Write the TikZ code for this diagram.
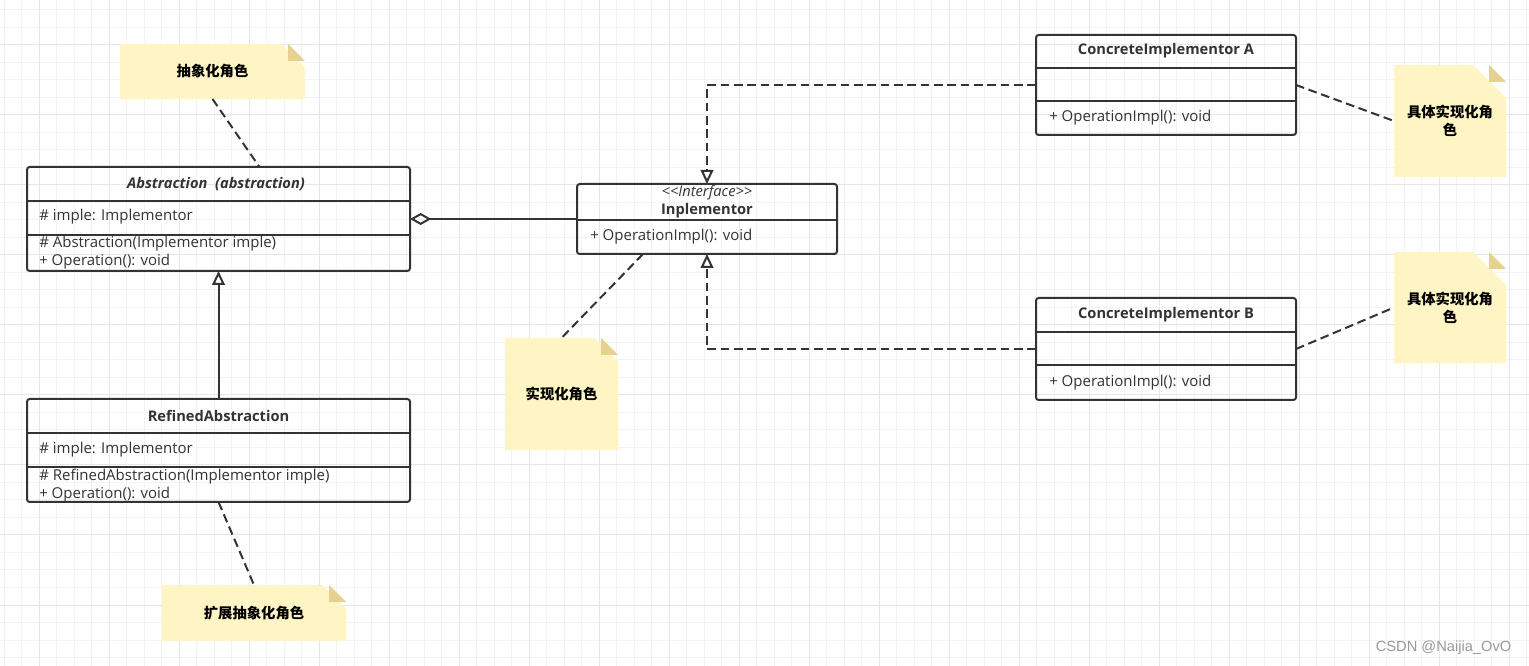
\documentclass[tikz,border=0pt]{standalone}
\usepackage{fontspec}
\usepackage{tikz}
\usetikzlibrary{arrows.meta, shapes.misc, calc}
\setmainfont{Open Sans}
\newfontfamily\cjk{Noto Sans CJK SC}
\newfontfamily\markfont{Liberation Sans}
\definecolor{umlline}{HTML}{333333}
\definecolor{notebg}{HTML}{FFF4C3}
\definecolor{notefold}{HTML}{E6D18E}
\definecolor{gridminor}{HTML}{F3F3F3}
\definecolor{gridmajor}{HTML}{E6E6E6}
\newlength{\unitpx}
\setlength{\unitpx}{0.75pt}

\begin{document}
\begin{tikzpicture}[x=0.75pt, y=-0.75pt,
  classbox/.style={rectangle, draw=umlline, line width=1.5pt, rounded corners=2pt, anchor=north west, inner sep=0pt, outer sep=0pt},
  partline/.style={draw=umlline, line width=1.5pt},
  classtitle/.style={font=\fontsize{11}{12}\selectfont\bfseries, text=umlline},
  member/.style={anchor=west, align=left, inner sep=0pt, font=\fontsize{11.25}{13.5}\selectfont, text=umlline},
  note/.style={chamfered rectangle, chamfered rectangle corners=north east, chamfered rectangle sep=12.75pt, fill=notebg, anchor=north west, inner xsep=-6pt, inner ysep=0pt, outer sep=0pt, align=center, font=\cjk\fontsize{10.75}{13.5}\selectfont\bfseries},
  umlrel/.style={draw=umlline, line width=1.5pt},
  umldash/.style={draw=umlline, line width=1.5pt, dash pattern=on 6.5pt off 3.5pt},
  opentri/.style={-{Triangle[open, length=10.5pt, width=9.5pt]}}]
\useasboundingbox (0,0) rectangle (1529,666);
\fill[white] (0,0) rectangle (1529,666);

% 背景の方眼
\foreach \gx in {4,21.5,...,1529} \draw[gridminor, line width=0.75pt] (\gx,0) -- (\gx,666);
\foreach \gy in {10,27.5,...,666} \draw[gridminor, line width=0.75pt] (0,\gy) -- (1529,\gy);
\foreach \gx in {39,109,...,1529} \draw[gridmajor, line width=0.75pt] (\gx,0) -- (\gx,666);
\foreach \gy in {45,115,...,666} \draw[gridmajor, line width=0.75pt] (0,\gy) -- (1529,\gy);

% Abstraction
\node[classbox, minimum width=383\unitpx, minimum height=104\unitpx] (abs) at (27,167) {};
\draw[partline] ($(abs.north west)+(0,34)$) -- ($(abs.north east)+(0,34)$);
\draw[partline] ($(abs.north west)+(0,68)$) -- ($(abs.north east)+(0,68)$);
\node[classtitle, font=\fontsize{11}{12}\selectfont\bfseries\itshape] (abstitle) at (216,184) {Abstraction\ \ (abstraction)};
\node[member] (absattr) at (39,217) {\# imple: Implementor};
\node[member] (absops) at (39,253) {\# Abstraction(Implementor imple)\\+ Operation(): void};

% RefinedAbstraction
\node[classbox, minimum width=383\unitpx, minimum height=103\unitpx] (refined) at (27,399) {};
\draw[partline] ($(refined.north west)+(0,34)$) -- ($(refined.north east)+(0,34)$);
\draw[partline] ($(refined.north west)+(0,68)$) -- ($(refined.north east)+(0,68)$);
\node[classtitle] (refinedtitle) at (218.5,416) {RefinedAbstraction};
\node[member] (refinedattr) at (39,450) {\# imple: Implementor};
\node[member] (refinedops) at (39,486) {\# RefinedAbstraction(Implementor imple)\\+ Operation(): void};

% Interface
\node[classbox, minimum width=260\unitpx, minimum height=70\unitpx] (iface) at (577,184) {};
\draw[partline] ($(iface.north west)+(0,36)$) -- ($(iface.north east)+(0,36)$);
\node[member, anchor=center, font=\fontsize{11}{12}\selectfont\itshape] (ifacestereo) at (707,193) {<{}<Interface>{}>};
\node[classtitle] (ifacetitle) at (707,211) {Inplementor};
\node[member] (ifaceop) at (590,237) {+ OperationImpl(): void};

% ConcreteImplementor A / B
\node[classbox, minimum width=260\unitpx, minimum height=100\unitpx] (concA) at (1036,35) {};
\draw[partline] ($(concA.north west)+(0,33)$) -- ($(concA.north east)+(0,33)$);
\draw[partline] ($(concA.north west)+(0,66)$) -- ($(concA.north east)+(0,66)$);
\node[classtitle] (concAtitle) at (1166,51) {ConcreteImplementor A};
\node[member] (concAop) at (1049,118) {+ OperationImpl(): void};

\node[classbox, minimum width=260\unitpx, minimum height=102\unitpx] (concB) at (1036,298) {};
\draw[partline] ($(concB.north west)+(0,34)$) -- ($(concB.north east)+(0,34)$);
\draw[partline] ($(concB.north west)+(0,67)$) -- ($(concB.north east)+(0,67)$);
\node[classtitle] (concBtitle) at (1166,315) {ConcreteImplementor B};
\node[member] (concBop) at (1049,383) {+ OperationImpl(): void};

% 注釈
\node[note, minimum width=185\unitpx, minimum height=55\unitpx] (absnote) at (120,44) {抽象化角色};
\node[note, minimum width=113\unitpx, minimum height=112\unitpx] (ifacenote) at (505,338) {实现化角色};
\node[note, minimum width=112\unitpx, minimum height=112\unitpx] (concAnote) at (1394,65) {具体实现化角\\色};
\node[note, minimum width=112\unitpx, minimum height=111\unitpx] (concBnote) at (1394,252) {具体实现化角\\色};
\node[note, minimum width=184\unitpx, minimum height=56\unitpx] (refinednote) at (162,585) {扩展抽象化角色};
\foreach \n in {absnote, ifacenote, concAnote, concBnote, refinednote}
  \fill[notefold] ($(\n.north -| \n.east)+(-17,0)$) -- ++(0,17) -- ++(17,0) -- cycle;

% 関係
\draw[umlrel, {Diamond[open, length=16pt, width=9pt]}-] (abs.east) -- (iface.west);
\draw[umlrel, opentri] (refined.north) -- (abs.south);
\draw[umldash, opentri] (concA.west) -| (iface.north);
\draw[umldash, opentri] (concB.west) -| (iface.south);

% 注釈の線
\draw[umldash] (absnote.south) -- ([xshift=41\unitpx]abs.north);
\draw[umldash] (refined.south) -- (refinednote.north);
\draw[umldash] ([xshift=-64\unitpx]iface.south) -- (ifacenote.north);
\draw[umldash] (concA.east) -- (concAnote.west);
\draw[umldash] (concB.east) -- (concBnote.west);

\node[anchor=east, text=black!40, font=\markfont\fontsize{11}{12}\selectfont] (mark) at (1516,648) {CSDN @Naijia\_OvO};
\end{tikzpicture}
\end{document}
